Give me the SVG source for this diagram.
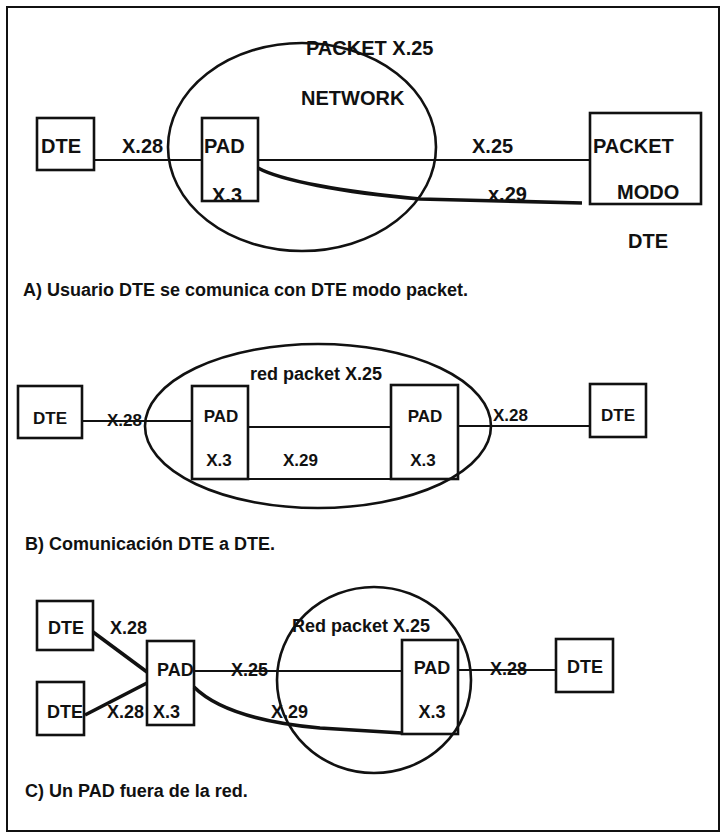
<svg xmlns="http://www.w3.org/2000/svg" width="726" height="834" viewBox="0 0 726 834">
<style>
.bg{fill:#fff}
.frame{fill:none;stroke:#111;stroke-width:2}
.box{fill:none;stroke:#111;stroke-width:2.6}
.net{fill:none;stroke:#111;stroke-width:2.6}
.ln{fill:none;stroke:#111;stroke-width:2.2}
.thick{fill:none;stroke:#111;stroke-width:3.6}
text{font-family:"Liberation Sans",Arial,sans-serif;font-weight:bold;fill:#111}
.a{font-size:20px}
.b{font-size:17px}
.c{font-size:18px}
.cap{font-size:18px}
.m{text-anchor:middle}
</style>
<rect class="bg" x="0" y="0" width="726" height="834"/>
<rect class="frame" x="7" y="7" width="712" height="824"/>

<!-- Section A -->
<g id="netA"><ellipse class="net" cx="302" cy="147" rx="134" ry="104"/>
<text class="a" x="306" y="55">PACKET X.25</text>
<text class="a" x="301" y="105">NETWORK</text></g>
<g id="connA">
<line class="ln" x1="94" y1="160" x2="202" y2="160"/>
<line class="ln" x1="259" y1="160" x2="590" y2="160"/>
<path class="thick" d="M258,168 C280,180 340,192 420,199 L582,203"/>
<text class="a" x="122" y="153">X.28</text>
<text class="a" x="472" y="153">X.25</text>
<text class="a" x="488" y="201">x.29</text>
</g>
<g id="dteA"><rect class="box" x="37" y="118" width="57" height="52"/><text class="a" x="41" y="153">DTE</text></g>
<g id="padA"><text class="a" x="212" y="202">X.3</text><rect class="box" x="202" y="118" width="56" height="83"/><text class="a" x="204" y="153">PAD</text></g>
<g id="packetA"><rect class="box" x="590" y="113" width="111" height="91"/>
<text class="a" x="593" y="153">PACKET</text>
<text class="a" x="617" y="199">MODO</text>
<text class="a" x="628" y="248">DTE</text></g>
<text class="cap" x="23" y="296">A) Usuario DTE se comunica con DTE modo packet.</text>

<!-- Section B -->
<g id="netB"><ellipse class="net" cx="318" cy="426" rx="173" ry="82"/>
<text class="c" x="250" y="380">red packet X.25</text></g>
<g id="connB">
<line class="ln" x1="82" y1="421" x2="192" y2="421"/>
<line class="ln" x1="248" y1="427" x2="391" y2="427"/>
<line class="ln" x1="248" y1="479" x2="391" y2="479"/>
<line class="ln" x1="458" y1="426" x2="590" y2="426"/>
<text class="b" x="107" y="426">X.28</text>
<text class="b" x="283" y="466">X.29</text>
<text class="b" x="493" y="421">X.28</text>
</g>
<g id="dteB1"><rect class="box" x="18" y="386" width="64" height="52"/><text class="b m" x="50" y="424">DTE</text></g>
<g id="padB1"><rect class="box" x="192" y="386" width="56" height="93"/><text class="b m" x="221" y="422">PAD</text><text class="b m" x="219" y="466">X.3</text></g>
<g id="padB2"><rect class="box" x="391" y="385" width="67" height="94"/><text class="b m" x="425" y="422">PAD</text><text class="b m" x="423" y="466">X.3</text></g>
<g id="dteB2"><rect class="box" x="590" y="384" width="56" height="53"/><text class="b m" x="618" y="421">DTE</text></g>
<text class="cap" x="25" y="550">B) Comunicación DTE a DTE.</text>

<!-- Section C -->
<g id="netC"><ellipse class="net" cx="374" cy="680" rx="97" ry="93"/>
<text class="c" x="292" y="632">Red packet X.25</text></g>
<g id="connC">
<line class="thick" x1="93" y1="632" x2="147" y2="672"/>
<line class="thick" x1="85" y1="715" x2="147" y2="683"/>
<line class="ln" x1="194" y1="671" x2="402" y2="671"/>
<path class="thick" d="M194,687 C215,708 255,722 320,728 L402,733"/>
<line class="ln" x1="458" y1="670" x2="556" y2="670"/>
<text class="c" x="110" y="634">X.28</text>
<text class="c" x="107" y="718">X.28</text>
<text class="c" x="231" y="676">X.25</text>
<text class="c" x="271" y="718">X.29</text>
<text class="c" x="490" y="675">X.28</text>
</g>
<g id="dteC1"><rect class="box" x="37" y="601" width="56" height="49"/><text class="c m" x="66" y="634">DTE</text></g>
<g id="dteC2"><rect class="box" x="37" y="682" width="47" height="53"/><text class="c" x="47" y="718">DTE</text></g>
<g id="padC1"><rect class="box" x="147" y="641" width="47" height="84"/><text class="c" x="157" y="676">PAD</text><text class="c" x="153" y="718">X.3</text></g>
<g id="padC2"><rect class="box" x="402" y="640" width="56" height="94"/><text class="c m" x="432" y="674">PAD</text><text class="c m" x="432" y="718">X.3</text></g>
<g id="dteC3"><rect class="box" x="556" y="639" width="57" height="53"/><text class="c m" x="585" y="673">DTE</text></g>
<text class="cap" x="25" y="797">C) Un PAD fuera de la red.</text>
</svg>
